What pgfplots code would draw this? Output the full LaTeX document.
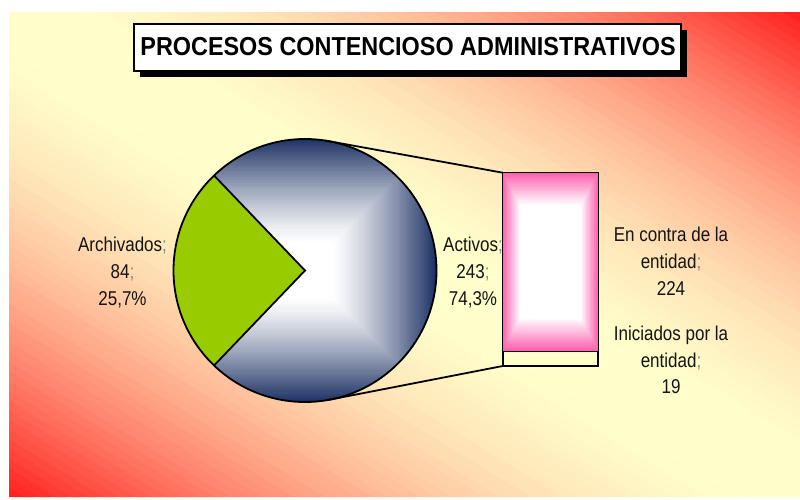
\documentclass[border=0pt]{standalone}
\usepackage{pgfplots}
\pgfplotsset{compat=1.18}
\usepackage{pgfplotstable}
\usepackage{fontspec}
\usetikzlibrary{calc}

\newfontfamily\lbl{Liberation Sans}[FakeStretch=0.85]
\newfontfamily\ttl{Liberation Sans}[FakeStretch=0.9]

\definecolor{bgyellow}{RGB}{255,255,204}
\definecolor{bgred}{RGB}{255,30,30}
\definecolor{pienavy}{RGB}{30,50,100}
\definecolor{piegreen}{RGB}{153,204,0}
\definecolor{barpink}{RGB}{255,95,175}
\definecolor{barcream}{RGB}{255,255,204}
\definecolor{txt}{RGB}{20,20,20}
\definecolor{sepgray}{RGB}{135,135,135}

% pie: Activos vs Archivados
\pgfplotstableread{
label value
Activos 243
Archivados 84
}\piedata
% bar: split of Activos
\pgfplotstableread{
label value
Iniciados 19
EnContra 224
}\bardata

\newcommand\sep{\textcolor{sepgray}{;}}
\newcommand\lab[3]{\node[anchor=base, text=txt, inner sep=0pt,
  font=\lbl\fontsize{20}{24}\selectfont] at (axis cs:#1,#2) {#3};}

\begin{document}
\begin{tikzpicture}
\useasboundingbox (0,0) rectangle (800pt,499pt);
\fill[white] (0,0) rectangle (800pt,499pt);

% diagonal background: yellow along TL-BR, red at TR and BL corners
\begin{scope}[shift={(9pt,2pt)}, x=791pt, y=484pt]
  \clip (0,0) rectangle (1,1);
  \foreach \k in {0,...,99}{
    \pgfmathsetmacro\sa{\k/50}
    \pgfmathsetmacro\sb{(\k+1.6)/50}
    \pgfmathsetmacro\t{abs((\k+0.5)/50-1)}
    \pgfmathtruncatemacro\w{100*pow(\t,1.8)}
    \fill[bgred!\w!bgyellow] (\sa,0) -- (\sb,0) -- (0,\sb) -- (0,\sa) -- cycle;
  }
\end{scope}

\pgfplotstablegetelem{0}{value}\of\piedata \let\vAct\pgfplotsretval
\pgfplotstablegetelem{1}{value}\of\piedata \let\vArc\pgfplotsretval
\pgfmathsetmacro\ha{180/(\vAct+\vArc)*\vAct}
\pgfplotstablegetelem{0}{value}\of\bardata \let\vIni\pgfplotsretval
\pgfplotstablegetelem{1}{value}\of\bardata \let\vCon\pgfplotsretval
\pgfmathsetmacro\vTot{\vIni+\vCon}

\begin{axis}[
    at={(0,0)}, anchor=south west,
    scale only axis, width=800pt, height=499pt,
    xmin=0, xmax=800, ymin=0, ymax=499,
    hide axis, clip=false
]
\coordinate (pc) at (axis cs:305,228.5);

% title box with shadow
\fill[black] (axis cs:140,422) rectangle (axis cs:687,469);
\filldraw[fill=white, draw=black, line width=1.5pt] (axis cs:134,428) rectangle (axis cs:681,475);
\node[anchor=base, inner sep=0pt, font=\ttl\bfseries\fontsize{26}{30}\selectfont]
  at (axis cs:408,443.3) {PROCESOS CONTENCIOSO ADMINISTRATIVOS};

% Activos sector, box gradient navy -> white
\fill[path picture={
    \foreach \i in {0,...,50}{
      \pgfmathsetmacro\h{131.5*(1-0.8*\i/50)}
      \pgfmathtruncatemacro\p{100*pow(1-\i/50,1.3)}
      \fill[pienavy!\p!white] ([shift={(-\h pt,-\h pt)}]pc) rectangle ([shift={(\h pt,\h pt)}]pc);
    }}]
  (pc) -- ++(-\ha:131.5pt) arc[start angle=-\ha, end angle=\ha, radius=131.5pt] -- cycle;
% Archivados sector
\fill[piegreen] (pc) -- ++(\ha:131.5pt) arc[start angle=\ha, end angle=360-\ha, radius=131.5pt] -- cycle;
\draw[line width=1.8pt] (pc) circle[radius=131.5pt];
\draw[line width=1.8pt] ($(pc)+(\ha:131.5pt)$) -- (pc) -- ($(pc)+(-\ha:131.5pt)$);

% connector lines to the bar
\draw[line width=1.8pt] ($(pc)+(81:131.5pt)$) -- (axis cs:502.7,326.3);
\draw[line width=1.8pt] ($(pc)+(-80:131.5pt)$) -- (axis cs:502.7,133);

% labels
\lab{122.5}{248}{Archivados\sep}
\lab{122.5}{221}{84\sep}
\lab{122.5}{194}{25,7\%}
\lab{473}{248}{Activos\sep}
\lab{473}{221}{243\sep}
\lab{473}{194}{74,3\%}
\lab{671}{257.3}{En contra de la}
\lab{671}{231}{entidad\sep}
\lab{671}{204}{224}
\lab{671}{159}{Iniciados por la}
\lab{671}{132}{entidad\sep}
\lab{671}{106}{19}
\end{axis}

% bar of the Activos split
\begin{axis}[
    at={(502.7pt,133pt)}, anchor=south west,
    scale only axis, width=95.6pt, height=193.3pt,
    xmin=-0.5, xmax=0.5, ymin=0, ymax=\vTot,
    ybar stacked, bar width=1,
    hide axis, clip=false
]
% box gradient pink -> white behind the upper segment
\fill[path picture={
    \foreach \i in {0,...,30}{
      \pgfmathsetmacro\f{0.36*\i/30}
      \pgfmathtruncatemacro\p{100-100*\i/30}
      \fill[barpink!\p!white]
        ($(path picture bounding box.south west)!\f!(path picture bounding box.center)$)
        rectangle
        ($(path picture bounding box.north east)!\f!(path picture bounding box.center)$);
    }}] (axis cs:-0.5,\vIni) rectangle (axis cs:0.5,\vTot);
\addplot[fill=barcream, draw=black, line width=1.8pt] table[x expr=0, y=value, skip coords between index={1}{2}] {\bardata};
\addplot[fill=none, draw=black, line width=1.8pt] table[x expr=0, y=value, skip coords between index={0}{1}] {\bardata};
\draw[line width=1.8pt] (axis cs:-0.5,\vIni) rectangle (axis cs:0.5,\vTot);
\end{axis}
\end{tikzpicture}
\end{document}
